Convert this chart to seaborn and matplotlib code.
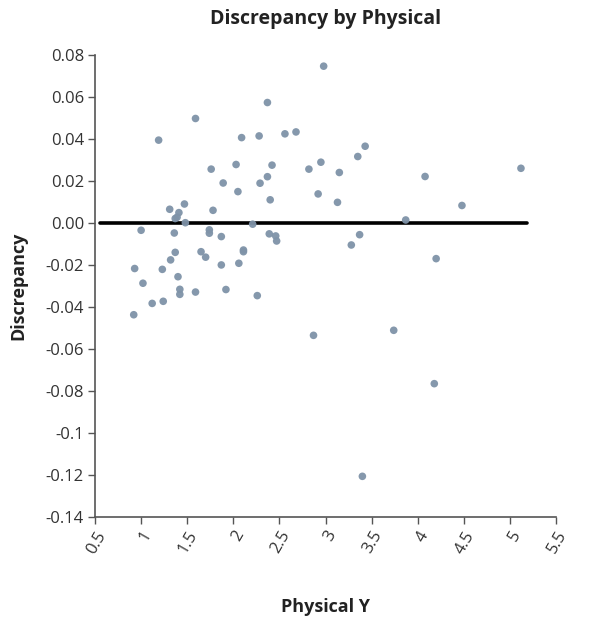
"""
plot.py
scatter of discrepancy against physical Y
"""

import seaborn as sns
import matplotlib.pyplot as plt
import pandas as pd

# values
physical_y = [2.98, 2.37, 1.59, 1.19, 2.09, 2.28, 2.56, 2.68, 1.76, 2.03,
              2.42, 2.82, 2.95, 3.15, 1.89, 2.29, 2.37, 2.05, 2.92, 3.13,
              2.40, 1.47, 1.31, 1.41, 1.37, 1.39, 1.78, 1.48, 2.21, 1.00,
              1.36, 1.74, 1.74, 1.87, 2.39, 2.46, 2.47, 1.37, 1.65, 1.70,
              2.11, 2.11, 1.32, 0.93, 1.23, 1.87, 2.06, 1.40, 1.02, 1.42,
              1.42, 1.59, 1.92, 2.26, 1.12, 1.24, 0.92, 2.87, 3.43, 3.35,
              4.08, 5.12, 4.48, 3.87, 3.37, 3.28, 4.20, 3.74, 4.18, 3.40]
discrepancy = [0.0746, 0.0573, 0.0497, 0.0394, 0.0406, 0.0414, 0.0424, 0.0433, 0.0256, 0.0278,
               0.0275, 0.0256, 0.0289, 0.0240, 0.0190, 0.0189, 0.0220, 0.0149, 0.0138, 0.0098,
               0.0110, 0.0090, 0.0065, 0.0049, 0.0021, 0.0027, 0.0060, 0.0001, -0.0006, -0.0035,
               -0.0048, -0.0033, -0.0049, -0.0065, -0.0052, -0.0062, -0.0086, -0.0140, -0.0137, -0.0163,
               -0.0129, -0.0137, -0.0176, -0.0217, -0.0221, -0.0200, -0.0192, -0.0256, -0.0287, -0.0316,
               -0.0340, -0.0329, -0.0317, -0.0346, -0.0383, -0.0373, -0.0437, -0.0535, 0.0365, 0.0316,
               0.0221, 0.0260, 0.0083, 0.0014, -0.0056, -0.0105, -0.0170, -0.0511, -0.0765, -0.1206]

zero_line_x = [0.55, 5.19]

x_ticks = [0.5, 1, 1.5, 2, 2.5, 3, 3.5, 4, 4.5, 5, 5.5]
x_tick_labels = ["0.5", "1", "1.5", "2", "2.5", "3", "3.5", "4", "4.5", "5", "5.5"]
y_ticks = [0.08, 0.06, 0.04, 0.02, 0.0, -0.02, -0.04, -0.06, -0.08, -0.1, -0.12, -0.14]
y_tick_labels = ["0.08", "0.06", "0.04", "0.02", "0.00", "-0.02", "-0.04", "-0.06",
                 "-0.08", "-0.1", "-0.12", "-0.14"]

df = pd.DataFrame({"Physical Y": physical_y, "Discrepancy": discrepancy})

sns.set_style("ticks")
plt.rcParams['font.family'] = ['Open Sans', 'DejaVu Sans']

fig = plt.figure(figsize=(6.13, 6.23), dpi=100)
ax = fig.add_axes([0.155, 0.170, 0.752, 0.742])

sns.scatterplot(data=df, x="Physical Y", y="Discrepancy", ax=ax,
                color="#7f93a8", s=30, edgecolor="none", alpha=0.95, zorder=3)

# reference line at zero
ax.plot(zero_line_x, [0, 0], color="black", linewidth=2.6, zorder=2)

ax.set_xlim(0.5, 5.5)
ax.set_ylim(-0.14, 0.08)
ax.set_xticks(x_ticks)
ax.set_xticklabels(x_tick_labels, rotation=60, ha="right", va="top",
                   rotation_mode="anchor", fontsize=12, color="#333333")
ax.set_yticks(y_ticks)
ax.set_yticklabels(y_tick_labels, fontsize=12, color="#333333")
ax.tick_params(axis="both", length=5, width=1, color="#555555", pad=3)

for side in ["left", "bottom"]:
    ax.spines[side].set_color("#555555")
    ax.spines[side].set_linewidth(1.2)
sns.despine(ax=ax)

ax.set_xlabel("Physical Y", fontsize=13, fontweight="bold", color="#222222")
ax.xaxis.set_label_coords(0.5, -0.175)
ax.set_ylabel("Discrepancy", fontsize=13, fontweight="bold", color="#222222", va="center")
ax.yaxis.set_label_coords(-0.167, 0.5)
ax.set_title("Discrepancy by Physical", fontsize=14, fontweight="bold", color="#222222", pad=22)

fig.savefig("out.png", dpi=100)
